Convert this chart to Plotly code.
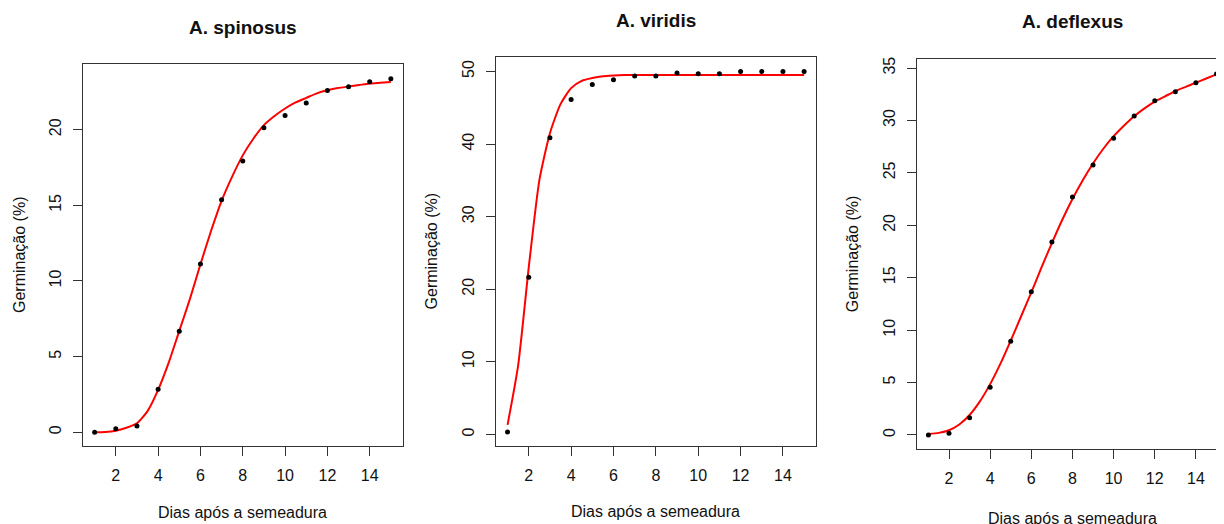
import plotly.graph_objects as go

# ---- data ----
days = list(range(1, 16))
fit_days = [1 + 0.5 * i for i in range(29)]

spinosus_obs = [0, 0.24, 0.41, 2.85, 6.67, 11.13, 15.36, 17.93, 20.13, 20.94,
                21.76, 22.59, 22.83, 23.16, 23.36]
spinosus_fit = [0.0, 0.02, 0.1, 0.3, 0.6, 1.4, 2.8, 4.6, 6.7, 8.8, 11.1, 13.3,
                15.3, 16.9, 18.3, 19.4, 20.3, 20.9, 21.4, 21.8, 22.1, 22.4,
                22.6, 22.75, 22.85, 22.95, 23.05, 23.1, 23.15]

viridis_obs = [0.32, 21.66, 40.86, 46.13, 48.2, 48.86, 49.36, 49.36, 49.8,
               49.7, 49.7, 50.0, 50.0, 50.0, 50.0]
viridis_fit = [1.3, 9.5, 23.0, 35.0, 41.5, 45.5, 47.7, 48.7, 49.1, 49.35,
               49.45, 49.5, 49.5, 49.5, 49.5, 49.5, 49.5, 49.5, 49.5, 49.5,
               49.5, 49.5, 49.5, 49.5, 49.5, 49.5, 49.5, 49.5, 49.5]

deflexus_obs = [0, 0.16, 1.64, 4.54, 8.95, 13.67, 18.4, 22.69, 25.74, 28.29,
                30.43, 31.88, 32.73, 33.59, 34.44]
deflexus_fit = [0.1, 0.2, 0.45, 1.0, 1.9, 3.2, 4.85, 6.8, 9.0, 11.3, 13.6,
                16.0, 18.3, 20.5, 22.5, 24.3, 25.9, 27.3, 28.5, 29.5, 30.4,
                31.15, 31.8, 32.3, 32.8, 33.2, 33.6, 34.0, 34.4]

titles = ["A. spinosus", "A. viridis", "A. deflexus"]
x_label = "Dias após a semeadura"
y_label = "Germinação (%)"
x_ticks = [2, 4, 6, 8, 10, 12, 14]
y_ticks = [[0, 5, 10, 15, 20], [0, 10, 20, 30, 40, 50], [0, 5, 10, 15, 20, 25, 30, 35]]

# ---- layout geometry (pixels in the 1224x524 window) ----
OFF = 8                      # default page body margin
FW, FH = 1224 - OFF, 524 - OFF

def px(x):
    return (x - OFF) / FW

def py(y):
    return 1 - (y - OFF) / FH

boxes = [  # left, right, top, bottom
    (82.8, 402.7, 61.3, 446.0),
    (495.7, 816.0, 54.3, 446.0),
    (916.7, 1223.9, 56.7, 449.0),
]
x_ranges = [[0.44, 15.56], [0.44, 15.56], [0.43, 15.36]]
y_ranges = [[-0.936, 24.34], [-1.67, 51.99], [-1.38, 35.82]]
title_y = [25, 18, 19]
xlab_y = [512, 511, 518]

FONT = "Liberation Sans, Arial, sans-serif"
TXT = "#111111"
LINE = "#333333"

fig = go.Figure()
obs_sets = [spinosus_obs, viridis_obs, deflexus_obs]
fit_sets = [spinosus_fit, viridis_fit, deflexus_fit]

for i in range(3):
    sfx = "" if i == 0 else str(i + 1)
    fig.add_trace(go.Scatter(x=fit_days, y=fit_sets[i], mode="lines",
                             line=dict(color="#ff0000", width=2, shape="spline", smoothing=0.6),
                             xaxis="x" + sfx, yaxis="y" + sfx, showlegend=False,
                             hoverinfo="skip"))
    fig.add_trace(go.Scatter(x=days, y=obs_sets[i], mode="markers",
                             marker=dict(color="black", size=5),
                             xaxis="x" + sfx, yaxis="y" + sfx, showlegend=False))

layout = dict(width=FW, height=FH, margin=dict(l=0, r=0, t=0, b=0),
              paper_bgcolor="white", plot_bgcolor="white",
              font=dict(family=FONT, color=TXT, size=16), annotations=[])

for i in range(3):
    sfx = "" if i == 0 else str(i + 1)
    l, r, t, b = boxes[i]
    layout["xaxis" + sfx] = dict(
        domain=[px(l), min(px(r), 1)], range=x_ranges[i], anchor="y" + sfx,
        tickvals=x_ticks, ticks="outside", ticklen=9, tickwidth=1, tickcolor=LINE,
        ticklabelstandoff=5,
        showline=True, linecolor=LINE, linewidth=1, mirror=True,
        showgrid=False, zeroline=False, tickfont=dict(size=16, color=TXT),
        fixedrange=True)
    layout["yaxis" + sfx] = dict(
        domain=[py(b), py(t)], range=y_ranges[i], anchor="x" + sfx,
        tickvals=y_ticks[i], ticks="outside", ticklen=9, tickwidth=1, tickcolor=LINE,
        tickangle=-90, ticklabelstandoff=5,
        showline=True, linecolor=LINE, linewidth=1, mirror=(i < 2),
        showgrid=False, zeroline=False, tickfont=dict(size=16, color=TXT),
        fixedrange=True)
    cx = (l + (r if i < 2 else 1228)) / 2
    layout["annotations"].append(dict(
        text="<b>" + titles[i] + "</b>", x=px(cx), y=py(title_y[i]),
        xref="paper", yref="paper", showarrow=False, xanchor="center", yanchor="middle",
        font=dict(size=19, color=TXT)))
    layout["annotations"].append(dict(
        text=x_label, x=px(cx), y=py(xlab_y[i]),
        xref="paper", yref="paper", showarrow=False, xanchor="center", yanchor="middle",
        font=dict(size=16, color=TXT)))
    layout["annotations"].append(dict(
        text=y_label, x=px(l - 64), y=py((t + b) / 2), textangle=-90,
        xref="paper", yref="paper", showarrow=False, xanchor="center", yanchor="middle",
        font=dict(size=16, color=TXT)))

fig.update_layout(**layout)
fig.write_html("out.html")
